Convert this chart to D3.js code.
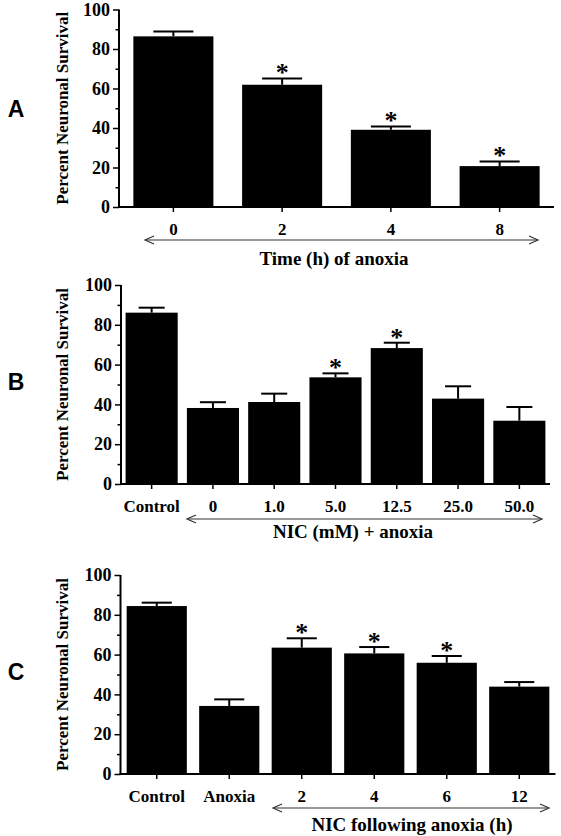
<!DOCTYPE html>
<html><head><meta charset="utf-8">
<script src="https://cdn.jsdelivr.net/npm/d3@7"></script>
<style>body{margin:0;background:#fff}svg{display:block}</style></head>
<body><svg id="c" width="561" height="836"></svg>
<script>
// ---- data ----
const yTicks = [0, 20, 40, 60, 80, 100];
const yMinorTicks = [10, 30, 50, 70, 90];
const yLabel = "Percent Neuronal Survival";
const panelLabels = ["A", "B", "C"];
const titles = ["Time (h) of anoxia", "NIC (mM) + anoxia", "NIC following anoxia (h)"];

const catsA = ["0", "2", "4", "8"];
const valsA = [86.4, 61.9, 39.1, 20.7];
const errA  = [2.4, 3.2, 1.7, 2.4];
const sigA  = [false, true, true, true];

const catsB = ["Control", "0", "1.0", "5.0", "12.5", "25.0", "50.0"];
const valsB = [86.1, 38.2, 41.2, 53.6, 68.3, 42.9, 31.8];
const errB  = [2.5, 2.9, 4.2, 2.0, 2.7, 6.2, 6.9];
const sigB  = [false, false, false, true, true, false, false];

const catsC = ["Control", "Anoxia", "2", "4", "6", "12"];
const valsC = [84.4, 34.2, 63.5, 60.6, 55.9, 43.9];
const errC  = [1.7, 3.3, 4.7, 3.2, 3.4, 2.3];
const sigC  = [false, false, true, true, true, false];

// ---- layout ----
const layouts = [
  {x0:119, x1:554, yb:207, yt:9.5, pad:0.264, lblY:117, arrow:[145,538,240], titleX:334, titleY:265},
  {x0:121, x1:550, yb:484, yt:285, pad:0.15, lblY:390, arrow:[187,542,519], titleX:353, titleY:538},
  {x0:120.5, x1:555.5, yb:774, yt:575, pad:0.17, lblY:680, arrow:[273,549,808], titleX:412, titleY:831}
];
const panels = [
  [catsA, valsA, errA, sigA],
  [catsB, valsB, errB, sigB],
  [catsC, valsC, errC, sigC]
];

const svg = d3.select("#c");
const serif = "'Liberation Serif','Times New Roman',serif";
const sans = "'Liberation Sans',Arial,sans-serif";

panels.forEach(([cats, vals, errs, sig], p) => {
  const L = layouts[p];
  const g = svg.append("g");
  const x = d3.scaleBand().domain(cats).range([L.x0, L.x1])
    .paddingInner(L.pad).paddingOuter(L.pad / 2);
  const y = d3.scaleLinear().domain([0, 100]).range([L.yb, L.yt]);
  const data = cats.map((c, i) => ({c, v: vals[i], e: errs[i], s: sig[i]}));

  // bars
  g.selectAll("rect.bar").data(data).join("rect")
    .attr("x", d => x(d.c)).attr("width", x.bandwidth())
    .attr("y", d => y(d.v)).attr("height", d => y(0) - y(d.v))
    .attr("fill", "#000");

  // error bars (upper only)
  const cw = x.bandwidth() / 2;
  g.selectAll("line.ev").data(data).join("line")
    .attr("x1", d => x(d.c) + x.bandwidth() / 2).attr("x2", d => x(d.c) + x.bandwidth() / 2)
    .attr("y1", d => y(d.v)).attr("y2", d => y(d.v + d.e))
    .attr("stroke", "#000").attr("stroke-width", 2);
  g.selectAll("line.ec").data(data).join("line")
    .attr("x1", d => x(d.c) + x.bandwidth() / 2 - cw / 2).attr("x2", d => x(d.c) + x.bandwidth() / 2 + cw / 2)
    .attr("y1", d => y(d.v + d.e)).attr("y2", d => y(d.v + d.e))
    .attr("stroke", "#000").attr("stroke-width", 2);

  // significance stars
  g.selectAll("text.star").data(data.filter(d => d.s)).join("text")
    .attr("x", d => x(d.c) + x.bandwidth() / 2)
    .attr("y", d => y(d.v + d.e) + 3)
    .attr("text-anchor", "middle")
    .style("font-family", serif).style("font-size", "26px").style("font-weight", "bold")
    .text("*");

  // y axis (major)
  const ya = g.append("g").attr("transform", `translate(${L.x0},0)`)
    .call(d3.axisLeft(y).tickValues(yTicks).tickSize(6).tickSizeOuter(0).tickPadding(3));
  // y minor ticks
  const ym = g.append("g").attr("transform", `translate(${L.x0},0)`)
    .call(d3.axisLeft(y).tickValues(yMinorTicks).tickSize(3.5).tickSizeOuter(0).tickFormat(""));
  ym.select(".domain").remove();

  // x axis
  const xa = g.append("g").attr("transform", `translate(0,${L.yb})`)
    .call(d3.axisBottom(x).tickSize(5).tickSizeOuter(0).tickPadding(11));

  [ya, ym, xa].forEach(a => {
    a.attr("font-family", null).attr("font-size", null);
    a.selectAll(".domain").attr("stroke", "#000").attr("stroke-width", 2);
    a.selectAll(".tick line").attr("stroke", "#000").attr("stroke-width", 1.5);
    a.selectAll(".tick text").attr("fill", "#000")
      .style("font-family", serif).style("font-size", "17px").style("font-weight", "bold");
  });
  ya.selectAll(".tick text").style("font-size", "18px");
  xa.select(".domain").attr("d", `M${L.x0 - 1},0H${L.x1}`);
  ya.select(".domain").attr("d", `M0,${L.yb}V${L.yt}`);

  // y label
  g.append("text")
    .attr("transform", `translate(68,${(L.yb + L.yt) / 2}) rotate(-90)`)
    .attr("text-anchor", "middle")
    .style("font-family", serif).style("font-size", "17px").style("font-weight", "bold")
    .text(yLabel);

  // panel label
  g.append("text").attr("x", 16).attr("y", L.lblY).attr("text-anchor", "middle")
    .style("font-family", sans).style("font-size", "23px").style("font-weight", "bold")
    .text(panelLabels[p]);

  // double-headed arrow
  const [ax1, ax2, ay] = L.arrow;
  const ag = g.append("g").attr("stroke", "#333").attr("stroke-width", 1.2).attr("fill", "none");
  ag.append("line").attr("x1", ax1).attr("x2", ax2).attr("y1", ay).attr("y2", ay);
  ag.append("path").attr("d", `M${ax1 + 9},${ay - 4}L${ax1},${ay}L${ax1 + 9},${ay + 4}`);
  ag.append("path").attr("d", `M${ax2 - 9},${ay - 4}L${ax2},${ay}L${ax2 - 9},${ay + 4}`);

  // title
  g.append("text").attr("x", L.titleX).attr("y", L.titleY).attr("text-anchor", "middle")
    .style("font-family", serif).style("font-size", "19px").style("font-weight", "bold")
    .text(titles[p]);
});
</script>
</body></html>
